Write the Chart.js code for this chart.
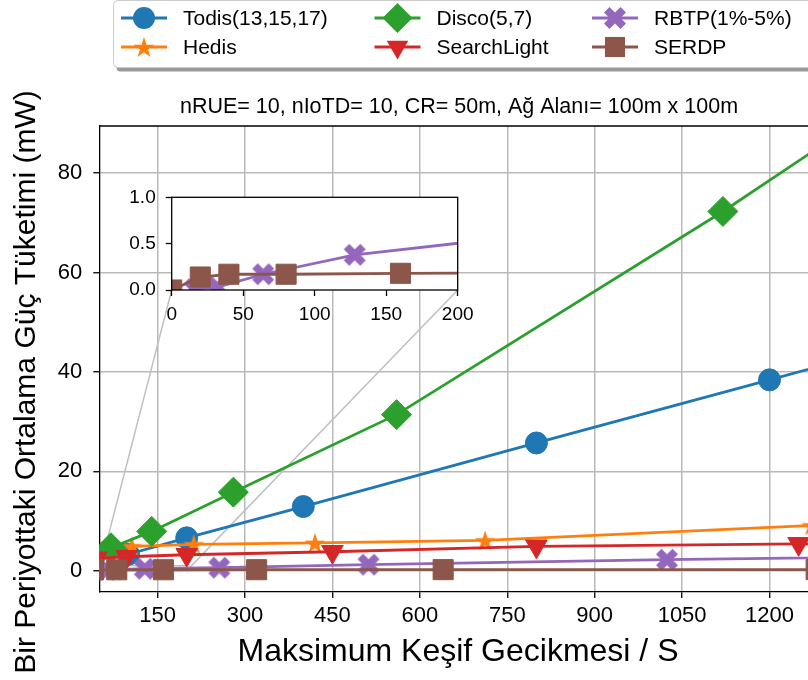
<!DOCTYPE html>
<html>
<head>
<meta charset="utf-8">
<script src="https://cdn.jsdelivr.net/npm/chart.js@4.4.1/dist/chart.umd.min.js"></script>
<style>
  html, body { margin: 0; padding: 0; background: #fff; overflow: hidden; }
  #wrap { position: relative; width: 808px; height: 680px; }
  #main { position: absolute; left: 0; top: 0; }
  #inset { position: absolute; left: 110px; top: 180px; }
</style>
</head>
<body>
<div id="wrap">
  <canvas id="main" width="808" height="680"></canvas>
  <canvas id="inset" width="380" height="150"></canvas>
</div>
<script>
// ---- series (x = maximum discovery latency, y = average power per period, mW) ----
const seriesNames = ['Todis(13,15,17)', 'Hedis', 'Disco(5,7)', 'SearchLight', 'RBTP(1%-5%)', 'SERDP'];

const todisX  = [100, 200, 400, 800, 1200, 1600];
const todisY  = [3.3, 6.6, 12.9, 25.7, 38.4, 51.2];

const hedisX  = [53, 106, 212, 420, 712, 1272];
const hedisY  = [4.0, 4.9, 5.3, 5.6, 6.1, 9.1];

const discoX  = [35, 70, 140, 280, 560, 1120, 2240];
const discoY  = [2.3, 4.6, 7.9, 15.8, 31.4, 72.3, 160];

const searchX = [45, 97, 200, 450, 800, 1250, 2500];
const searchY = [2.5, 2.8, 3.2, 3.8, 4.9, 5.4, 6.5];

const rbtpX   = [16, 32, 64, 128, 256, 512, 1024, 2048];
const rbtpY   = [0.01, 0.03, 0.17, 0.38, 0.6, 1.2, 2.2, 3.7];

const serdpX  = [0, 20, 40, 80, 160, 320, 640, 1280];
const serdpY  = [0.0, 0.14, 0.17, 0.17, 0.18, 0.19, 0.2, 0.21];

// ---- tick labels ----
const xTicks = [150, 300, 450, 600, 750, 900, 1050, 1200];
const yTicks = [0, 20, 40, 60, 80];
const insetXTicks = [0, 50, 100, 150, 200];
const insetYTicks = [0, 0.5, 1.0];

// ---- texts ----
const titleText = 'nRUE= 10, nIoTD= 10, CR= 50m, Ağ Alanı= 100m x 100m';
const xLabel = 'Maksimum Keşif Gecikmesi / S';
const yLabel = 'Bir Periyottaki Ortalama Güç Tüketimi (mW)';

// ---- axis limits ----
const X_MIN = 50, X_MAX = 1266, Y_MIN = -4.3, Y_MAX = 89.5;
const IX_MIN = 0, IX_MAX = 200, IY_MIN = 0, IY_MAX = 1.0;
const INSET_LEFT = 110, INSET_TOP = 180;

const FONT = 'Liberation Sans, Arial, sans-serif';
Chart.defaults.font.family = FONT;

const colors = ['#1f77b4', '#ff7f0e', '#2ca02c', '#d62728', '#9467bd', '#8c564b'];

// filled five-point star marker
function makeStar(color, outer) {
  const s = Math.ceil(outer * 2 + 2);
  const c = document.createElement('canvas');
  c.width = s; c.height = s;
  const g = c.getContext('2d');
  const inner = outer * 0.381966;
  g.fillStyle = color;
  g.beginPath();
  for (let i = 0; i < 10; i++) {
    const r = i % 2 ? inner : outer;
    const a = -Math.PI / 2 + i * Math.PI / 5;
    g.lineTo(s / 2 + r * Math.cos(a), s / 2 + r * Math.sin(a) + outer * 0.1);
  }
  g.closePath();
  g.fill();
  return c;
}

// filled thick "X" marker
function makeX(color, size) {
  const pts = [[-1,-2],[0,-1],[1,-2],[2,-1],[1,0],[2,1],[1,2],[0,1],[-1,2],[-2,1],[-1,0],[-2,-1]];
  const s = Math.ceil(size + 2);
  const c = document.createElement('canvas');
  c.width = s; c.height = s;
  const g = c.getContext('2d');
  const k = size / 4;
  g.fillStyle = color;
  g.beginPath();
  pts.forEach(p => g.lineTo(s / 2 + p[0] * k, s / 2 + p[1] * k));
  g.closePath();
  g.fill();
  return c;
}

const markers = [
  { pointStyle: 'circle', radius: 11, rotation: 0 },
  { pointStyle: makeStar(colors[1], 11), radius: 11, rotation: 0 },
  { pointStyle: 'rectRot', radius: 15, rotation: 0 },
  { pointStyle: 'triangle', radius: 12.5, rotation: 180 },
  { pointStyle: makeX(colors[4], 22), radius: 11, rotation: 0 },
  { pointStyle: 'rect', radius: 14.2, rotation: 0 }
];

const seriesX = [todisX, hedisX, discoX, searchX, rbtpX, serdpX];
const seriesY = [todisY, hedisY, discoY, searchY, rbtpY, serdpY];

function buildDatasets() {
  return seriesNames.map((name, i) => ({
    label: name,
    data: seriesX[i].map((x, j) => ({ x: x, y: seriesY[i][j] })),
    borderColor: colors[i],
    backgroundColor: colors[i],
    borderWidth: 2.8,
    pointStyle: markers[i].pointStyle,
    pointRadius: markers[i].radius,
    pointRotation: markers[i].rotation,
    pointBackgroundColor: colors[i],
    pointBorderColor: colors[i],
    pointBorderWidth: 1,
    tension: 0,
    clip: 0,
    order: 5 - i
  }));
}

function fixedTicks(list) {
  return function (scale) { scale.ticks = list.map(v => ({ value: v })); };
}

// keep the plot area exactly where the layout puts it (no label overhang padding)
function fixedSize(w, h) {
  return function (s) {
    if (w !== null) s.width = w;
    if (h !== null) s.height = h;
    s.paddingLeft = 0; s.paddingRight = 0; s.paddingTop = 0; s.paddingBottom = 0;
  };
}

// ---------------- inset (zoom on the low range) ----------------
const insetFrame = {
  id: 'insetFrame',
  beforeDraw(chart) {
    const a = chart.chartArea, ctx = chart.ctx;
    ctx.save();
    ctx.fillStyle = '#ffffff';
    ctx.fillRect(a.left, a.top, a.right - a.left, a.bottom - a.top);
    ctx.restore();
  },
  afterDraw(chart) {
    const a = chart.chartArea, ctx = chart.ctx;
    ctx.save();
    ctx.strokeStyle = '#000';
    ctx.lineWidth = 1.3;
    ctx.strokeRect(a.left, a.top, a.right - a.left, a.bottom - a.top);
    ctx.restore();
  }
};

const insetChart = new Chart(document.getElementById('inset'), {
  type: 'line',
  data: { datasets: buildDatasets() },
  options: {
    responsive: false, animation: false, devicePixelRatio: 1,
    layout: { autoPadding: false, padding: { top: 17.3, right: 32.3, left: 0, bottom: 0 } },
    plugins: { legend: { display: false }, title: { display: false }, tooltip: { enabled: false } },
    scales: {
      x: {
        type: 'linear', min: IX_MIN, max: IX_MAX,
        afterBuildTicks: fixedTicks(insetXTicks),
        afterFit: fixedSize(null, 40),
        grid: { drawOnChartArea: false, tickColor: '#000', tickLength: 6, tickWidth: 1.3 },
        border: { display: false },
        ticks: { color: '#000', font: { size: 19 }, padding: 7, maxRotation: 0, autoSkip: false,
                 callback: v => String(v) }
      },
      y: {
        type: 'linear', min: IY_MIN, max: IY_MAX,
        afterBuildTicks: fixedTicks(insetYTicks),
        afterFit: fixedSize(61.7, null),
        grid: { drawOnChartArea: false, tickColor: '#000', tickLength: 6, tickWidth: 1.3 },
        border: { display: false },
        ticks: { color: '#000', font: { size: 19 }, padding: 10, autoSkip: false,
                 callback: v => Number(v).toFixed(1) }
      }
    }
  },
  plugins: [insetFrame]
});

// ---------------- main chart ----------------
// legend column starts (handle left edge); text sits 62px after it
const legendCols = [121, 374.5, 592];
const legendRows = [18, 47];

function drawLegendMarker(ctx, i, x, y) {
  const m = markers[i];
  ctx.save();
  ctx.fillStyle = colors[i];
  ctx.strokeStyle = colors[i];
  ctx.lineWidth = 1;
  Chart.helpers.drawPoint(ctx, { pointStyle: m.pointStyle, radius: m.radius, rotation: m.rotation }, x, y);
  ctx.restore();
}

const mainDecor = {
  id: 'mainDecor',
  beforeDatasetsDraw(chart) {
    const { ctx, chartArea: a, scales: { x, y } } = chart;
    const ia = insetChart.chartArea;
    ctx.save();
    ctx.beginPath();
    ctx.rect(a.left, a.top, a.right - a.left, a.bottom - a.top);
    ctx.clip();
    ctx.strokeStyle = '#c0c0c0';
    ctx.lineWidth = 1.5;
    const rx0 = x.getPixelForValue(Math.max(IX_MIN, x.min));
    const rx1 = x.getPixelForValue(IX_MAX);
    const ry0 = y.getPixelForValue(IY_MIN);
    const ry1 = y.getPixelForValue(IY_MAX);
    ctx.strokeRect(rx0, ry1, rx1 - rx0, ry0 - ry1);
    ctx.beginPath();
    ctx.moveTo(INSET_LEFT + ia.left, INSET_TOP + ia.bottom);
    ctx.lineTo(rx0, ry0);
    ctx.moveTo(INSET_LEFT + ia.right, INSET_TOP + ia.bottom);
    ctx.lineTo(rx1, ry0);
    ctx.stroke();
    ctx.restore();
  },
  afterDraw(chart) {
    const { ctx, chartArea: a } = chart;
    ctx.save();
    // top spine
    ctx.strokeStyle = '#000';
    ctx.lineWidth = 1.3;
    ctx.beginPath();
    ctx.moveTo(a.left, a.top);
    ctx.lineTo(a.right, a.top);
    ctx.stroke();

    ctx.fillStyle = '#000';
    // title above the axes
    ctx.font = '21.5px ' + FONT;
    ctx.textAlign = 'center';
    ctx.textBaseline = 'middle';
    ctx.fillText(titleText, 459, 107);
    // axis titles
    ctx.font = '32px ' + FONT;
    ctx.fillText(xLabel, 458, 652);
    ctx.save();
    ctx.translate(27, 382);
    ctx.rotate(-Math.PI / 2);
    ctx.font = '30px ' + FONT;
    ctx.fillText(yLabel, 0, 0);
    ctx.restore();

    // legend box with shadow
    const bx = 113.5, by = 0.5, bw = 740, bh = 67, r = 4;
    const rr = (x0, y0) => {
      ctx.beginPath();
      ctx.moveTo(x0 + r, y0);
      ctx.lineTo(x0 + bw - r, y0);
      ctx.quadraticCurveTo(x0 + bw, y0, x0 + bw, y0 + r);
      ctx.lineTo(x0 + bw, y0 + bh - r);
      ctx.quadraticCurveTo(x0 + bw, y0 + bh, x0 + bw - r, y0 + bh);
      ctx.lineTo(x0 + r, y0 + bh);
      ctx.quadraticCurveTo(x0, y0 + bh, x0, y0 + bh - r);
      ctx.lineTo(x0, y0 + r);
      ctx.quadraticCurveTo(x0, y0, x0 + r, y0);
      ctx.closePath();
    };
    rr(bx + 3, by + 4);
    ctx.fillStyle = '#9a9a9a';
    ctx.fill();
    rr(bx, by);
    ctx.fillStyle = '#ffffff';
    ctx.fill();
    ctx.strokeStyle = '#cccccc';
    ctx.lineWidth = 1;
    ctx.stroke();

    ctx.font = '21px ' + FONT;
    ctx.textAlign = 'left';
    ctx.textBaseline = 'middle';
    seriesNames.forEach((name, i) => {
      const x0 = legendCols[Math.floor(i / 2)];
      const yy = legendRows[i % 2];
      ctx.strokeStyle = colors[i];
      ctx.lineWidth = 2.8;
      ctx.beginPath();
      ctx.moveTo(x0, yy);
      ctx.lineTo(x0 + 46, yy);
      ctx.stroke();
      drawLegendMarker(ctx, i, x0 + 23, yy);
      ctx.fillStyle = '#000';
      ctx.fillText(name, x0 + 62, yy + 1);
    });
    ctx.restore();
  }
};

const mainChart = new Chart(document.getElementById('main'), {
  type: 'line',
  data: { datasets: buildDatasets() },
  options: {
    responsive: false, animation: false, devicePixelRatio: 1,
    layout: { autoPadding: false, padding: { top: 126, right: 0, left: 0, bottom: 0 } },
    plugins: { legend: { display: false }, title: { display: false }, tooltip: { enabled: false } },
    scales: {
      x: {
        type: 'linear', min: X_MIN, max: X_MAX,
        afterBuildTicks: fixedTicks(xTicks),
        afterFit: fixedSize(null, 88),
        grid: { color: '#b9b9b9', lineWidth: 1.5, tickColor: '#000', tickLength: 6, tickWidth: 1.3 },
        border: { color: '#000', width: 1.3 },
        ticks: { color: '#000', font: { size: 22 }, padding: 5, maxRotation: 0, autoSkip: false,
                 callback: v => String(v) }
      },
      y: {
        type: 'linear', min: Y_MIN, max: Y_MAX,
        afterBuildTicks: fixedTicks(yTicks),
        afterFit: fixedSize(99.3, null),
        grid: { color: '#b9b9b9', lineWidth: 1.5, tickColor: '#000', tickLength: 6, tickWidth: 1.3 },
        border: { color: '#000', width: 1.3 },
        ticks: { color: '#000', font: { size: 22 }, padding: 11, autoSkip: false,
                 callback: v => String(v) }
      }
    }
  },
  plugins: [mainDecor]
});
</script>
</body>
</html>
